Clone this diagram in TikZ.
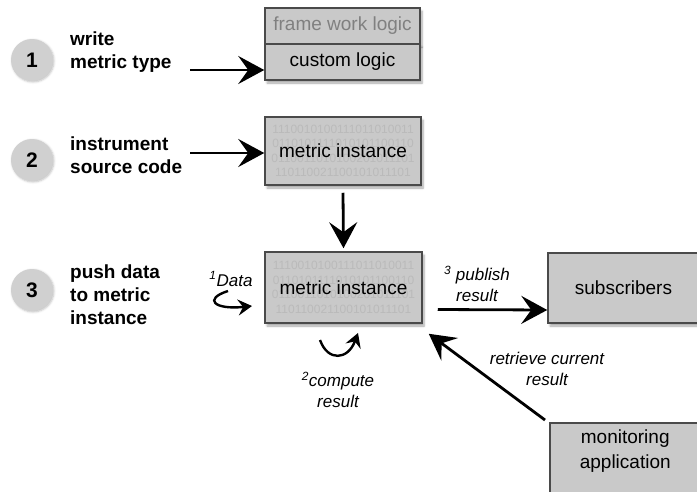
\documentclass[tikz,border=0pt]{standalone}
\usepackage{fontspec}
\setmainfont{Liberation Sans}
\usetikzlibrary{arrows.meta,shadows.blur}

\definecolor{boxgray}{HTML}{C9C9C9}
\definecolor{edgegray}{HTML}{4A4A4A}
\definecolor{stepgray}{HTML}{D0D0D0}
\definecolor{bitgray}{HTML}{BABABA}

\tikzset{
  box/.style={draw=edgegray, fill=boxgray, line width=1.5pt, inner sep=0pt,
    font=\fontsize{19}{25}\selectfont,
    blur shadow={shadow xshift=2pt, shadow yshift=-3pt, shadow blur steps=6, shadow opacity=35}},
  bitbox/.style={box, path picture={
    \node[bits] at (path picture bounding box.center)
      {1110010100111011010011\\0110101111010101100110\\0110011010100201011101\\110110021100101011101};}},
  bits/.style={align=center, text=bitgray, font=\fontsize{12}{14.5}\selectfont},
  stepnum/.style={circle, fill=stepgray, minimum size=42pt, inner sep=0pt,
    font=\bfseries\fontsize{21}{21}\selectfont,
    blur shadow={shadow xshift=1pt, shadow yshift=-1pt, shadow blur steps=4, shadow opacity=25}},
  steptext/.style={anchor=west, align=left, inner sep=0pt, font=\bfseries\fontsize{19}{23}\selectfont},
  note/.style={align=center, inner sep=0pt, font=\itshape\fontsize{17}{21}\selectfont},
  bigarrow/.style={line width=2.8pt, -{Stealth[length=26pt, width=28pt, inset=10pt]}},
  hookarrow/.style={line width=2.4pt, -{Stealth[length=14pt, width=16pt, inset=5pt]}}
}

\begin{document}
\begin{tikzpicture}[x=1pt, y=-1pt]
		%%%%% START %%%%%
		\useasboundingbox (0,0) rectangle (697,491);
		\clip (0,0) rectangle (697,491);
		
		% the three steps
		\node[stepnum] (c1) at (32,60) {1};
		\node[stepnum] (c2) at (32,160) {2};
		\node[stepnum] (c3) at (32,290) {3};
		\node[steptext] (t1) at (70,52) {write\\metric type};
		\node[steptext] (t2) at (70,155) {instrument\\source code};
		\node[steptext] (t3) at (70,295) {push data\\to metric\\instance};
		
		% metric type
		\node[box, minimum width=155pt, minimum height=36pt, text=gray] (fw) at (342.5,26) {frame work logic};
		\node[box, minimum width=155pt, minimum height=36pt] (cl) at (342.5,62) {custom logic};
		
		% instances
		\node[bitbox, minimum width=156pt, minimum height=68pt] (m1) at (343,151) {metric instance};
		\node[bitbox, minimum width=157pt, minimum height=71pt] (m2) at (343.5,287.5) {metric instance};
		
		% consumers
		\node[box, minimum width=151pt, minimum height=70pt] (sub) at (623.5,288) {subscribers};
		\node[box, minimum width=151pt, minimum height=90pt, anchor=north west, align=center,
		  text depth=38pt] (mon) at (549,422) {monitoring\\application};
		
		\draw[bigarrow] (190,70) -- (cl.west |- 0,70);
		\draw[bigarrow] (190,153) -- (m1.west |- 0,153);
		\draw[bigarrow] ([yshift=-7pt]m1.south) -- ([yshift=3pt]m2.north);
		\draw[bigarrow] ([shift={(15pt,-22pt)}]m2.east) -- (sub.west |- 0,310);
		\draw[bigarrow] ([shift={(-4pt,2pt)}]mon.north west) -- ([shift={(6pt,-10pt)}]m2.south east);
		
		% small loops
		\coordinate (din) at (228,291);
		\coordinate (dout) at (252,306);
		\coordinate (cin) at (320,340);
		\coordinate (cout) at (358,333);
		\draw[hookarrow] (din) .. controls (203,299) and (214,310) .. (dout);
		\draw[hookarrow] (cin) .. controls (328,362) and (348,360) .. (cout);
		
		\node[note] (ld) at (231,279) {\textsuperscript{1}Data};
		\node[note] (lc) at (338,390) {\textsuperscript{2}compute\\result};
		\node[note] (lp) at (477,284) {\textsuperscript{3} publish\\result};
		\node[note] (lr) at (547,369) {retrieve current\\result};
		
		%%%%% END %%%%%
\end{tikzpicture}
\end{document}
